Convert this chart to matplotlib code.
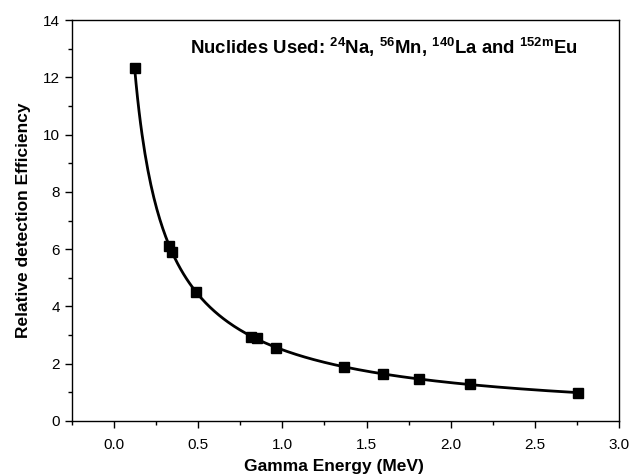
import numpy as np
import matplotlib
matplotlib.use("Agg")
import matplotlib.pyplot as plt
from matplotlib.ticker import MultipleLocator

plt.rcParams['font.family'] = ['Liberation Sans', 'DejaVu Sans']
plt.rcParams['mathtext.fontset'] = 'custom'
plt.rcParams['mathtext.rm'] = 'Liberation Sans:bold'
plt.rcParams['mathtext.bf'] = 'Liberation Sans:bold'

# gamma lines (MeV) and measured relative efficiencies
energy = [0.122, 0.329, 0.344, 0.487, 0.816, 0.847, 0.963,
          1.368, 1.596, 1.811, 2.113, 2.754]
efficiency = [12.33, 6.11, 5.90, 4.50, 2.94, 2.89, 2.56,
              1.90, 1.64, 1.46, 1.28, 0.99]

x = np.array(energy)
y = np.array(efficiency)

# smooth efficiency curve: quadratic fit in log-log space
coef = np.polyfit(np.log(x), np.log(y), 2)
xf = np.linspace(x.min(), x.max(), 300)
yf = np.exp(np.polyval(coef, np.log(xf)))

fig = plt.figure(figsize=(6.31, 4.74), dpi=100)
ax = fig.add_axes([72 / 631, 53 / 474, 547 / 631, 401 / 474])

ax.plot(xf, yf, color='black', lw=2, zorder=2)
ax.plot(x, y, 's', color='black', ms=7, zorder=3)

ax.set_xlim(-0.25, 3.0)
ax.set_ylim(0, 14)
ax.xaxis.set_major_locator(MultipleLocator(0.5))
ax.xaxis.set_minor_locator(MultipleLocator(0.25))
ax.yaxis.set_major_locator(MultipleLocator(2))
ax.yaxis.set_minor_locator(MultipleLocator(1))
ax.tick_params(which='major', direction='out', length=5, width=1, labelsize=11)
ax.tick_params(axis='x', which='major', pad=7)
ax.tick_params(which='minor', direction='out', length=3, width=1)
for s in ax.spines.values():
    s.set_linewidth(1)

ax.set_xlabel('Gamma Energy (MeV)', fontsize=12.5, fontweight='bold')
ax.xaxis.set_label_coords(0.478, -0.095)
ax.set_ylabel('Relative detection Efficiency', fontsize=12.5, fontweight='bold')
ax.yaxis.set_label_coords(-0.075, 0.5)

ax.text(0.215, 0.915,
        r'Nuclides Used: $^{\mathbf{24}}$Na, $^{\mathbf{56}}$Mn, '
        r'$^{\mathbf{140}}$La and $^{\mathbf{152m}}$Eu',
        transform=ax.transAxes, fontsize=13.4, fontweight='bold')

fig.savefig('out.png', dpi=100)
